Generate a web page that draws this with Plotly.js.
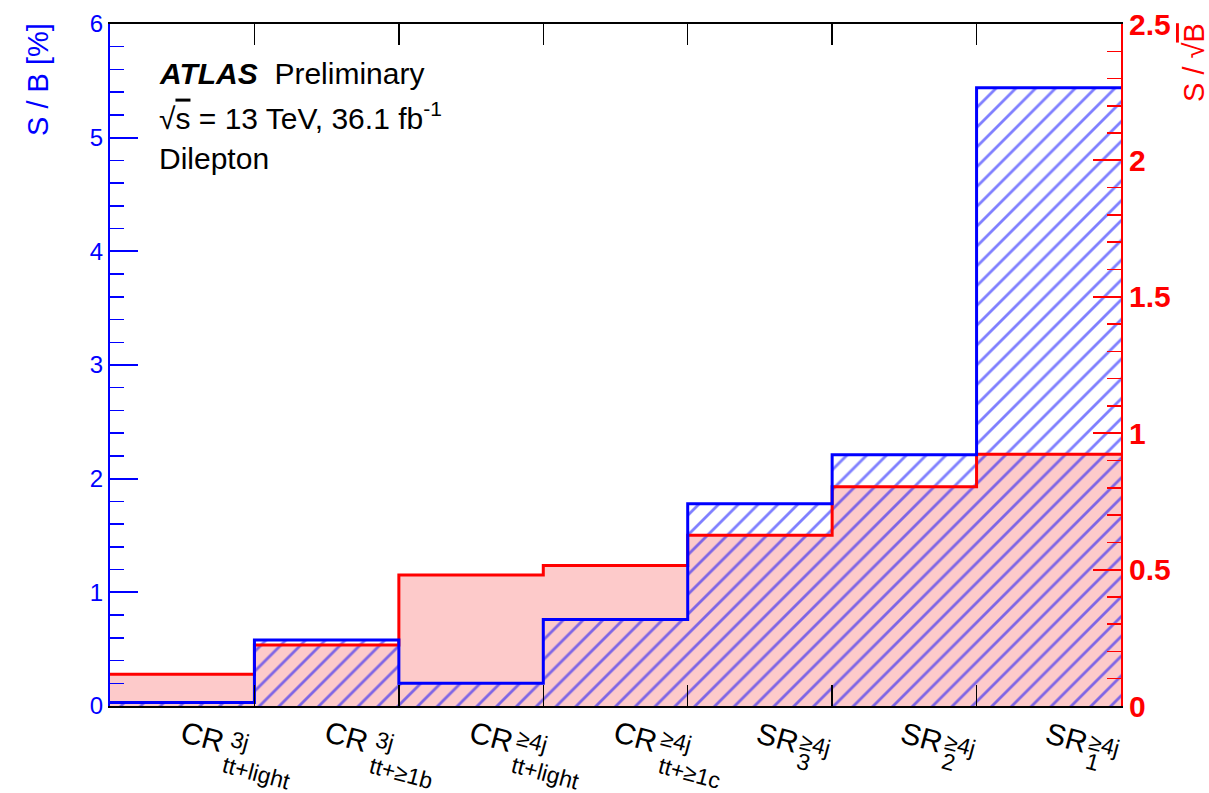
<!DOCTYPE html>
<html>
<head>
<meta charset="utf-8">
<script src="https://cdn.plot.ly/plotly-3.0.1.min.js"></script>
<style>html,body{margin:0;padding:0;background:#fff;}#chart{width:1209px;height:793px;}</style>
</head>
<body>
<div id="chart"></div>
<script>
// ---- data ----
const mainLabels = ['CR', 'CR', 'CR', 'CR', 'SR', 'SR', 'SR'];
const supLabels = ['3j', '3j', '≥4j', '≥4j', '≥4j', '≥4j', '≥4j'];
const subLabels = ['tt+light', 'tt+≥1b', 'tt+light', 'tt+≥1c', '3', '2', '1'];
const sOverB = [0.03, 0.58, 0.20, 0.76, 1.78, 2.21, 5.44];        // S / B [%]
const sOverSqrtB = [0.116, 0.224, 0.48, 0.515, 0.626, 0.804, 0.923]; // S / sqrt(B)

// ---- build step outlines (bin edges) ----
const n = sOverB.length;
const edges = [];
for (let i = 0; i <= n; i++) edges.push(i - 0.5);
const stepB = sOverB.concat([sOverB[n - 1]]);
const stepS = sOverSqrtB.concat([sOverSqrtB[n - 1]]);

const FONT = 'Liberation Sans, Arial, Helvetica, sans-serif';
const BLUE = '#0000ff', RED = '#ff0000', PINK = '#fdcaca';

const traces = [
  { // pink fill S/sqrtB
    x: edges, y: stepS, type: 'scatter', mode: 'lines', line: {shape: 'hv', width: 0, color: RED},
    fill: 'tozeroy', fillcolor: PINK, xaxis: 'x', yaxis: 'y', hoverinfo: 'skip', showlegend: false
  },
  { // blue hatch S/B
    x: edges, y: stepB, type: 'scatter', mode: 'lines', line: {shape: 'hv', width: 0, color: BLUE},
    fill: 'tozeroy', fillcolor: 'rgba(0,0,0,0)',
    fillpattern: {shape: '/', fgcolor: BLUE, bgcolor: 'rgba(0,0,0,0)', size: 14, solidity: 0.2, fillmode: 'overlay'},
    xaxis: 'x', yaxis: 'y2', hoverinfo: 'skip', showlegend: false
  },
  { // red outline
    x: edges, y: stepS, type: 'scatter', mode: 'lines', line: {shape: 'hv', width: 3, color: RED},
    xaxis: 'x', yaxis: 'y3', hoverinfo: 'skip', showlegend: false
  },
  { // blue outline
    x: edges, y: stepB, type: 'scatter', mode: 'lines', line: {shape: 'hv', width: 3, color: BLUE},
    xaxis: 'x', yaxis: 'y4', hoverinfo: 'skip', showlegend: false
  }
];

// ---- bin labels (rotated, composed of main / super / sub) ----
const annotations = [];
for (let i = 0; i < n; i++) {
  const isCR = mainLabels[i] === 'CR';
  const common = {xref: 'x', yref: 'paper', x: i, y: 0, showarrow: false, textangle: 15,
                  xanchor: 'center', yanchor: 'middle'};
  annotations.push(Object.assign({}, common, {
    text: mainLabels[i], xshift: isCR ? 20 : 18, yshift: isCR ? -30 : -31,
    font: {family: FONT, size: 30, color: '#000'}
  }));
  annotations.push(Object.assign({}, common, {
    text: supLabels[i], xshift: isCR ? (supLabels[i] === '3j' ? 58 : 61) : 56, yshift: isCR ? -35 : -39,
    font: {family: FONT, size: 23, color: '#000'}
  }));
  annotations.push(Object.assign({}, common, {
    text: subLabels[i], xshift: isCR ? 74 : 44, yshift: isCR ? -67 : -56,
    font: {family: FONT, size: 23, color: '#000'}
  }));
}

// ---- text block ----
const px2x = p => (p - 110) / 1011;
const px2y = p => (706 - p) / 682;
annotations.push({xref: 'paper', yref: 'paper', x: px2x(157), y: px2y(73), xanchor: 'left', yanchor: 'middle',
  showarrow: false, text: '<b><i>ATLAS</i></b>  Preliminary', font: {family: FONT, size: 30, color: '#000'}});
annotations.push({xref: 'paper', yref: 'paper', x: px2x(157), y: px2y(116), xanchor: 'left', yanchor: 'middle',
  showarrow: false, text: '√<span style="text-decoration:overline">s</span> = 13 TeV, 36.1 fb<sup>-1</sup>',
  font: {family: FONT, size: 30, color: '#000'}});
annotations.push({xref: 'paper', yref: 'paper', x: px2x(157), y: px2y(158), xanchor: 'left', yanchor: 'middle',
  showarrow: false, text: 'Dilepton', font: {family: FONT, size: 30, color: '#000'}});

// ---- axis titles ----
annotations.push({xref: 'paper', yref: 'paper', x: px2x(38), y: px2y(80), xanchor: 'center', yanchor: 'middle',
  showarrow: false, textangle: -90, text: 'S / B [%]', font: {family: FONT, size: 29, color: BLUE}});
annotations.push({xref: 'paper', yref: 'paper', x: px2x(1194), y: px2y(63), xanchor: 'center', yanchor: 'middle',
  showarrow: false, textangle: -90, text: 'S / √<span style="text-decoration:overline">B</span>',
  font: {family: FONT, size: 29, color: RED}});

const hiddenAxis = {overlaying: 'y', visible: false, showgrid: false, zeroline: false, fixedrange: true};

const layout = {
  width: 1209, height: 793,
  margin: {l: 110, r: 88, t: 24, b: 87},
  paper_bgcolor: '#fff', plot_bgcolor: 'rgba(0,0,0,0)',
  showlegend: false,
  xaxis: {
    range: [-0.5, 6.5], showgrid: false, zeroline: false, showticklabels: false,
    tickmode: 'array', tickvals: [0.5, 1.5, 2.5, 3.5, 4.5, 5.5],
    ticks: 'inside', ticklen: 21, tickwidth: 1.5, tickcolor: '#000',
    showline: true, linecolor: '#000', linewidth: 2, mirror: 'ticks'
  },
  yaxis: { // right red axis (base layer: pink fill)
    range: [0, 2.5], side: 'right', showgrid: false, zeroline: false,
    tickmode: 'linear', tick0: 0, dtick: 0.5,
    ticks: 'inside', ticklen: 28, tickwidth: 2, tickcolor: RED,
    minor: {dtick: 0.1, ticks: 'inside', ticklen: 14, tickwidth: 1.5, tickcolor: RED, showgrid: false},
    showline: true, linecolor: RED, linewidth: 2,
    tickfont: {family: FONT, size: 30, color: RED, weight: 'bold'}
  },
  yaxis2: { // left blue axis (hatch)
    overlaying: 'y', side: 'left', range: [0, 6], showgrid: false, zeroline: false,
    tickmode: 'linear', tick0: 0, dtick: 1,
    ticks: 'inside', ticklen: 28, tickwidth: 2, tickcolor: BLUE,
    minor: {dtick: 0.2, ticks: 'inside', ticklen: 14, tickwidth: 1.5, tickcolor: BLUE, showgrid: false},
    showline: true, linecolor: BLUE, linewidth: 2,
    tickfont: {family: FONT, size: 24, color: BLUE}
  },
  yaxis3: Object.assign({}, hiddenAxis, {range: [0, 2.5]}),
  yaxis4: Object.assign({}, hiddenAxis, {range: [0, 6]}),
  annotations: annotations
};

Plotly.newPlot('chart', traces, layout, {displayModeBar: false, staticPlot: true});
</script>
</body>
</html>
